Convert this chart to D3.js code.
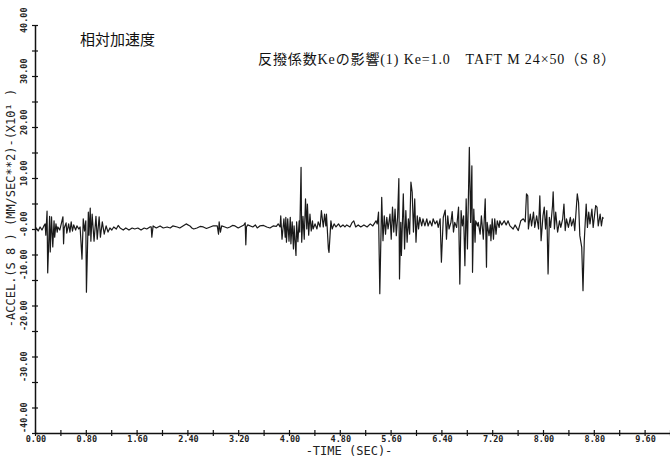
<!DOCTYPE html>
<html>
<head>
<meta charset="utf-8">
<script src="https://cdn.jsdelivr.net/npm/d3@7"></script>
<style>
  body { margin: 0; background: #fff; }
  svg { display: block; }
</style>
</head>
<body>
<svg id="chart" width="670" height="460"></svg>
<script>
// [time (s), accel] pairs, one array per stretch of the record
const burst1 = [
  [0.00,-0.2],[0.02,0.2],[0.05,-0.4],[0.08,0.4],[0.11,-0.2],[0.14,0.6],[0.16,1.0],[0.17,-1.2],
  [0.19,3.5],[0.20,-8.6],[0.23,2.5],[0.24,-4.5],[0.26,2.4],[0.28,-3.5],[0.30,1.6],[0.31,-1.6],
  [0.33,1.0],[0.35,-0.6],[0.36,0.4],[0.39,-0.2],[0.41,0.8],[0.44,2.4],[0.45,-2.9],[0.46,0.2],
  [0.49,1.2],[0.50,-0.8],[0.53,1.0],[0.55,-0.6],[0.57,1.4],[0.59,-0.4],[0.61,0.8],[0.64,-0.2],
  [0.66,0.6],[0.69,0.0],[0.71,0.4],[0.74,-5.9],[0.76,2.0],[0.78,-0.4],[0.80,1.6],[0.81,-12.4],
  [0.84,3.3],[0.85,-1.2],[0.87,4.1],[0.88,-2.4],[0.90,2.9],[0.93,-2.4],[0.96,2.5],[0.98,-2.0],
  [1.01,2.4],[1.03,-1.6],[1.06,1.4],[1.09,-1.0],[1.12,0.6],[1.15,-0.6],[1.18,0.2],[1.21,-0.2],
  [1.24,0.4],[1.28,0.0],[1.31,0.7],[1.34,0.2],[1.39,-0.2],[1.43,0.2],[1.48,-0.2],[1.53,0.2],
  [1.57,0.0],[1.62,0.2],[1.67,-0.2],[1.72,0.2],[1.76,0.0],[1.81,0.4]
];

const quiet = [
  [1.83,0.4],[1.84,-1.6],[1.86,0.6],[1.91,0.2],[1.97,0.6],[2.02,0.2],[2.08,0.4],[2.13,0.2],
  [2.17,0.6],[2.24,0.4],[2.28,0.2],[2.33,0.6],[2.38,1.0],[2.44,0.6],[2.47,0.2],[2.50,0.0],
  [2.55,0.2],[2.60,0.5],[2.65,0.4],[2.70,0.1],[2.76,0.4],[2.80,0.6],[2.87,0.6],[2.89,-1.0],
  [2.90,1.4],[2.92,-0.6],[2.94,0.6],[2.99,0.4],[3.03,0.2],[3.07,0.4],[3.11,0.7],[3.15,0.6],
  [3.20,0.2],[3.23,0.4],[3.29,0.8],[3.31,1.2],[3.32,-3.1],[3.33,0.4],[3.35,0.8],[3.43,0.4],
  [3.47,0.8],[3.50,0.2],[3.54,0.6],[3.60,0.7],[3.65,0.4],[3.70,0.2],[3.75,0.6],[3.80,0.5],
  [3.83,1.0]
];

const burst2 = [
  [3.86,0.4],[3.87,2.6],[3.89,-2.0],[3.92,2.0],[3.94,-1.6],[3.95,2.3],[3.96,-2.6],[3.98,2.0],
  [4.00,-2.4],[4.02,2.3],[4.03,-2.9],[4.05,1.4],[4.07,-3.9],[4.08,0.6],[4.11,-5.2],[4.12,1.4],
  [4.14,-2.5],[4.16,1.6],[4.17,-0.6],[4.19,12.1],[4.20,-2.6],[4.22,2.5],[4.24,-2.0],[4.26,5.9],
  [4.28,0.0],[4.29,4.9],[4.31,-1.2],[4.33,2.9],[4.35,-0.4],[4.37,1.6],[4.38,0.0],[4.41,1.0],
  [4.44,0.0],[4.46,1.4],[4.49,0.4],[4.51,3.6],[4.54,0.4],[4.56,2.9],[4.58,0.6],[4.59,2.9],
  [4.62,-3.9],[4.63,-4.6],[4.66,1.6],[4.68,0.0],[4.71,1.0],[4.74,0.4],[4.78,1.0],[4.81,0.4],
  [4.85,0.8],[4.88,0.4],[4.91,0.8],[4.96,0.4],[4.99,1.2],[5.02,1.6],[5.05,0.4],[5.09,0.8],
  [5.13,0.4],[5.18,0.8],[5.23,0.4],[5.28,1.0],[5.32,0.6],[5.37,1.6]
];

const burst3 = [
  [5.39,1.0],[5.41,3.3],[5.43,-12.7],[5.46,6.2],[5.48,-2.3],[5.50,2.6],[5.52,-1.0],[5.54,2.3],
  [5.56,0.0],[5.59,2.9],[5.61,-2.0],[5.63,4.3],[5.65,-0.6],[5.67,3.9],[5.69,-1.3],[5.71,2.3],
  [5.73,9.9],[5.74,-9.8],[5.76,1.3],[5.77,-5.2],[5.80,6.9],[5.82,-3.9],[5.84,3.6],[5.86,-2.6],
  [5.88,2.0],[5.90,-1.0],[5.92,9.2],[5.94,7.2],[5.96,-0.6],[5.98,5.9],[6.00,-2.6],[6.02,2.6],
  [6.04,0.0],[6.06,2.3],[6.09,0.6],[6.11,2.0],[6.14,0.6],[6.17,2.0],[6.19,0.6],[6.22,1.6],
  [6.25,0.6],[6.27,2.0],[6.30,1.0],[6.33,1.6],[6.35,0.3],[6.38,2.0],[6.40,-6.5],[6.43,2.3],
  [6.46,3.7],[6.48,-2.0],[6.50,2.6],[6.52,0.0],[6.55,1.3],[6.57,3.4],[6.59,-0.6],[6.61,1.3],
  [6.64,0.3],[6.67,4.3],[6.69,-10.8],[6.71,3.6],[6.73,0.6],[6.75,2.6],[6.77,-7.2],[6.79,5.9],
  [6.81,-3.9],[6.84,16.0],[6.86,1.3],[6.88,12.4],[6.89,-8.5],[6.91,3.9],[6.93,-2.6],[6.94,1.6],
  [6.97,0.6],[6.98,1.3],[7.01,-1.0],[7.03,2.6],[7.06,-2.0],[7.09,5.9],[7.11,-7.5],[7.12,1.3],
  [7.15,-1.3]
];

const burst4 = [
  [7.17,0.8],[7.18,-2.3],[7.20,2.0],[7.22,-2.0],[7.24,2.0],[7.26,-1.0],[7.28,1.6],[7.31,0.3],
  [7.32,1.6],[7.35,0.8],[7.39,1.6],[7.42,0.8],[7.45,1.6],[7.48,0.6],[7.53,0.0],[7.56,0.8],
  [7.61,-0.3],[7.65,1.6],[7.69,2.0],[7.72,1.4],[7.74,6.9],[7.76,6.5],[7.77,0.0],[7.80,2.9],
  [7.82,0.6],[7.85,3.3],[7.87,0.3],[7.90,2.6],[7.93,0.0],[7.95,6.5],[7.97,-2.3],[8.00,2.6],
  [8.02,4.3],[8.04,0.0],[8.06,3.6],[8.08,-8.8],[8.10,2.3],[8.12,0.3],[8.15,4.6],[8.16,7.3],
  [8.18,0.0],[8.20,3.3],[8.23,-0.6],[8.26,1.6],[8.28,0.3],[8.31,2.0],[8.33,4.9],[8.35,-0.3],
  [8.37,2.0],[8.40,0.3],[8.43,2.3],[8.45,0.6],[8.48,2.0],[8.50,-0.3],[8.54,6.9],[8.56,5.2],
  [8.58,-1.3],[8.61,-3.6],[8.63,-12.1],[8.65,-2.3],[8.68,4.9],[8.70,0.3],[8.72,3.3],[8.74,1.0],
  [8.77,3.9],[8.79,0.3],[8.82,3.6],[8.83,4.6],[8.85,4.3],[8.87,0.6],[8.90,2.9],[8.92,0.6],
  [8.94,2.3],[8.95,2.0]
];

const xTicks = [0,0.4,0.8,1.2,1.6,2.0,2.4,2.8,3.2,3.6,4.0,4.4,4.8,5.2,5.6,6.0,6.4,6.8,7.2,7.6,8.0,8.4,8.8,9.2,9.6,10.0];
const xLabelValues = [0,0.8,1.6,2.4,3.2,4.0,4.8,5.6,6.4,7.2,8.0,8.8,9.6];
const yTicks = [40,35,30,25,20,15,10,5,0,-5,-10,-15,-20,-25,-30,-35,-40];
const yLabelValues = [40,30,20,10,0,-10,-20,-30,-40];
const yLabels = ['40.00','30.00','20.00','10.00','-0.00','-10.00','-20.00','-30.00','-40.00'];

const title = '相対加速度';
const subtitle = '反撥係数Keの影響(1) Ke=1.0　TAFT M 24×50（S 8）';
const xTitle = '-TIME (SEC)-';
const yTitle = '-ACCEL.(S 8 ) (MM/SEC**2)-(X10¹ )';

const svg = d3.select('#chart');
const plotFont = '"DejaVu Sans Mono", monospace';

const x = d3.scaleLinear().domain([0, 10]).range([35, 670]);
const y = d3.scaleLinear().domain([-40, 40]).range([433, 25]);

// axes: ticks cross the axis line like the plotter draws them
const gx = svg.append('g')
  .attr('transform', `translate(0,${y(-40)})`)
  .call(d3.axisBottom(x).tickValues(xTicks).tickFormat('').tickSizeOuter(0));
gx.selectAll('.tick line').attr('y1', -3).attr('y2', 3);

const gy = svg.append('g')
  .attr('transform', `translate(${x(0)},0)`)
  .call(d3.axisLeft(y).tickValues(yTicks).tickFormat('').tickSizeOuter(0));
gy.selectAll('.tick line').attr('x1', -3).attr('x2', 3);

svg.selectAll('.domain').attr('stroke', '#111').attr('stroke-width', 1.5);
svg.selectAll('.tick line').attr('stroke', '#111').attr('stroke-width', 1.2);

// tick labels
svg.append('g')
  .selectAll('text')
  .data(xLabelValues)
  .join('text')
  .attr('x', d => x(d) + 1)
  .attr('y', 442)
  .attr('text-anchor', 'middle')
  .attr('font-family', plotFont)
  .attr('font-weight', 'bold')
  .attr('font-size', 8.5)
  .attr('fill', '#222')
  .text(d => d.toFixed(2));

svg.append('g')
  .selectAll('text')
  .data(yLabelValues)
  .join('text')
  .attr('transform', d => `translate(27,${y(d) + (d < 0 ? 0 : 8)}) rotate(-90)`)
  .attr('text-anchor', 'start')
  .attr('font-family', plotFont)
  .attr('font-weight', 'bold')
  .attr('font-size', 8.5)
  .attr('fill', '#222')
  .text((d, i) => yLabels[i]);

// axis titles
svg.append('text')
  .attr('x', 349)
  .attr('y', 455)
  .attr('text-anchor', 'middle')
  .attr('font-family', plotFont)
  .attr('font-size', 12)
  .attr('fill', '#222')
  .text(xTitle);

svg.append('text')
  .attr('transform', 'translate(15,208) rotate(-90)')
  .attr('text-anchor', 'middle')
  .attr('font-family', plotFont)
  .attr('font-size', 12)
  .attr('fill', '#222')
  .text(yTitle);

// the record
const series = burst1.concat(quiet, burst2, burst3, burst4);
const line = d3.line()
  .x(d => x(d[0]))
  .y(d => y(d[1]));

svg.append('path')
  .datum(series)
  .attr('fill', 'none')
  .attr('stroke', '#1a1a1a')
  .attr('stroke-width', 1.2)
  .attr('stroke-linejoin', 'round')
  .attr('d', line);

// Japanese captions pasted on the sheet
svg.append('text')
  .attr('x', 80)
  .attr('y', 45)
  .attr('font-family', '"Noto Sans CJK JP", sans-serif')
  .attr('font-size', 15)
  .attr('fill', '#111')
  .text(title);

svg.append('text')
  .attr('x', 258)
  .attr('y', 64)
  .attr('font-family', '"Liberation Serif", "Noto Sans CJK JP", serif')
  .attr('font-size', 14)
  .attr('textLength', 357)
  .attr('lengthAdjust', 'spacing')
  .attr('fill', '#111')
  .text(subtitle);
</script>
</body>
</html>
